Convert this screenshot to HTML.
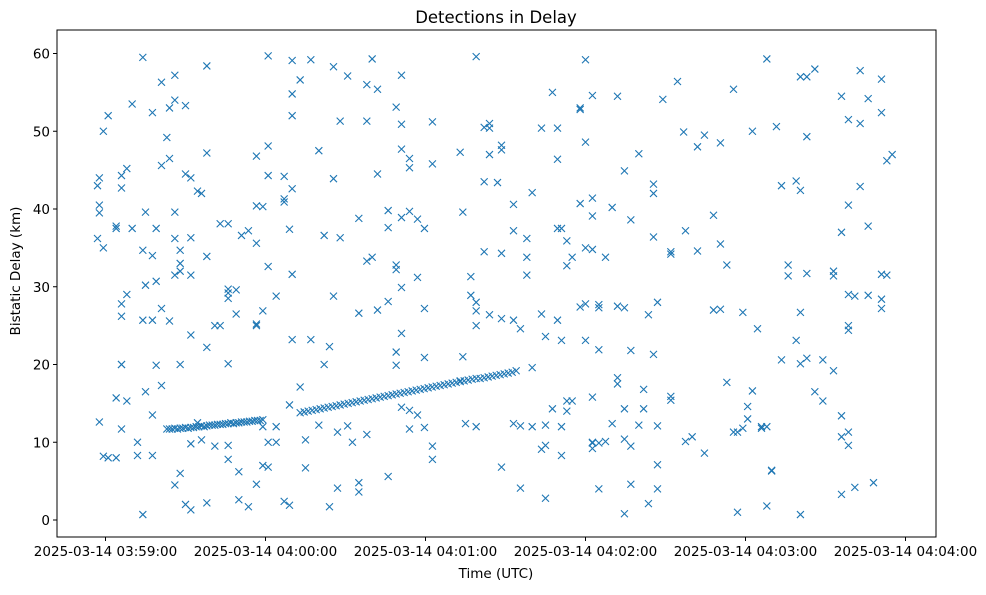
<!DOCTYPE html>
<html><head><meta charset="utf-8"><style>
body{margin:0;background:#fff;font-family:"Liberation Sans","DejaVu Sans",sans-serif}
svg text{font-family:"DejaVu Sans","Liberation Sans",sans-serif;fill:#000}
</style></head><body>
<svg id="chart" width="986" height="590" xmlns="http://www.w3.org/2000/svg">
<rect width="986" height="590" fill="#fff"/>
<text x="496" y="23" font-size="16.5" text-anchor="middle">Detections in Delay</text>
<text x="496" y="578" font-size="13.5" text-anchor="middle">Time (UTC)</text>
<text x="20" y="271" font-size="13.5" text-anchor="middle" transform="rotate(-90 20 271)">Bistatic Delay (km)</text>
<g id="marks"></g>
<g id="axes"></g>
</svg>
<script>
// seconds after 03:59:00, delay in km
const xTickSeconds=[0,60,120,180,240,300];
const xTickLabels=["2025-03-14 03:59:00","2025-03-14 04:00:00","2025-03-14 04:01:00","2025-03-14 04:02:00","2025-03-14 04:03:00","2025-03-14 04:04:00"];
const yTicks=[0,10,20,30,40,50,60];
const trackTimes1=[23,24,25,26,27,28,29,30,31,32,33,34,35,36,37,38,39,40,41,42,43,44,45,46,47,48,49,50,51,52,53,54,55,56,57,58,59];
const trackDelays1=[11.7,11.7,11.7,11.8,11.7,11.8,11.8,11.9,11.8,11.9,11.9,12.0,12.0,12.1,12.0,12.1,12.2,12.2,12.2,12.3,12.3,12.3,12.4,12.4,12.5,12.4,12.5,12.5,12.6,12.6,12.6,12.7,12.7,12.8,12.8,12.8,12.9];
const trackTimes2=[73,74.5,76,77.5,79,80.5,82,83.5,85,86.5,88,89.5,91,92.5,94,95.5,97,98.5,100,101.5,103,104.5,106,107.5,109,110.5,112,113.5,115,116.5,118,119.5,121,122.5,124,125.5,127,128.5,130,131.5,133,134.5,136,137.5,139,140.5,142,143.5,145,146.5,148,149.5,151,152.5,154];
const trackDelays2=[13.8,13.9,14.0,14.1,14.2,14.3,14.4,14.5,14.6,14.7,14.8,14.9,15.0,15.1,15.2,15.3,15.4,15.5,15.6,15.7,15.8,15.9,16.0,16.1,16.2,16.3,16.4,16.5,16.6,16.7,16.8,16.9,17.0,17.1,17.2,17.3,17.4,17.5,17.6,17.7,17.8,17.9,18.0,18.1,18.2,18.2,18.3,18.4,18.5,18.6,18.7,18.8,18.9,19.0,19.2];
const clutterTimes=[-3,-2.3,-0.8,1,4,6,8,10,12,14,15,17.6,19,21,23,24,26,28,30,32,34.5,36,38,41,43,46,49,50,51,53.6,56.6,59,61,64,67,69,70,73,75,77,80,82,84,85.5,87,88,90.8,92.6,95,98,100,102,106,109,111,114,117,119.6,122.6,133,134,135,137,139,142,144,147,148.5,153,155.6,158,160,163.5,165,167.6,169.5,171,173,175,178,180,182.6,185,187.5,190,192,194.6,197,200,201.8,203.6,205.5,207,209,212,214.5,216.8,217.5,220,222,224.6,228,230.6,233,235.5,237,239,240.8,242.6,244.5,246,248,249.8,251.6,253.5,256,259,260.6,263,266,269,273,276,278.6,281,283,286,288,291,293,295];
const clutterDelays=[[36.2,43],[39.5,44,40.5,12.6],[50,35,8.2],[52,8],[37.8,37.5,8,15.7],[27.8,26.2,20,20,11.7,44.3,42.7],[45.2,29,15.3],[53.5,37.5],[8.3,10],[59.5,0.7,34.7,25.7],[39.6,30.2,16.5],[52.4,34,13.5,8.3,25.7],[37.5,19.9,30.7],[45.6,27.2,17.3,56.3],[49.2],[46.5,53,25.6],[57.2,54,36.2,31.5,39.6,4.5],[20,6,33,32,34.7],[44.5,53.3,2],[44,23.8,31.5,36.3,9.8,1.3],[42.3,12.5],[42,10.3],[58.4,47.2,33.9,22.2,2.2],[25,9.5],[38.1,25],[20.1,29.7,28.5,29.2,7.8,38.1,9.6],[29.6,26.5],[6.2,2.6],[36.6],[37.2,1.7],[25,25.2,40.4,46.8,35.6,4.6],[40.3,7,26.9,12],[59.7,44.3,32.6,48.1,10,6.8],[10,12,28.8],[44.2,41.3,40.9,2.4],[14.8,1.9,37.4],[54.8,59.1,52,42.6,31.6,23.2],[56.6,17.1],[6.7,10.3],[59.2,23.2],[47.5,12.2],[36.6,20],[22.3,1.7],[43.9,58.3,28.8],[11.3,4.1],[51.3,36.3],[57.1,12.1],[10],[38.8,26.6,3.6,4.8],[56,51.3,33.3,11],[59.3,33.8],[55.4,44.5,27],[39.8,28.1,37.6,5.6],[53.1,32.8,32.2,21.6,19.9],[57.2,50.9,47.7,38.9,29.9,14.5,24],[46.5,45.3,39.7,11.7,14.1],[38.7,31.2,13.5],[37.5,27.2,20.9,11.9],[51.2,45.8,7.8,9.5],[47.3,17.9],[39.6,21],[12.4],[31.3,28.9],[59.6,12,28,25,26.9],[43.5,50.5,34.5],[51,50.4,47,26.4],[43.4],[48.2,47.6,34.3,6.8,25.9],[40.6,37.2,12.4,25.7],[4.1,24.6,12.1],[33.8,31.5,36.2],[42.1,19.6,12],[50.4,26.5,9.1],[2.8,9.6,12.2,23.6],[55,14.3],[46.4,50.4,37.5,25.7],[37.5,23.1,12,8.3],[15.3,14,35.9,32.7],[15.3,33.8],[53,52.8,40.7,27.4],[59.2,48.6,35,23.1,27.8],[15.8,9.2,9.9,10,39.1,41.4,54.6,34.8],[27.7,27.3,21.9,9.9,4],[33.8,10.1],[40.2,12.4],[54.5,27.5,17.5,18.3],[44.9,14.3,10.4,0.8,27.3],[38.6,21.8,4.6,9.5],[47.1,12.2],[16.8,14.3],[26.4,2.1],[42,43.2,36.4,21.3],[28,12.1,7.1,4],[54.1],[34.5,34.2,15.9,15.4],[56.4],[49.9],[37.2,10.1],[10.7],[48,34.6],[49.5,8.6],[39.2,27],[35.5,27.1,48.5],[32.8,17.7],[55.4,11.3],[1,11.3],[26.7,11.8],[14.6,13],[50,16.6],[24.6],[12,11.8],[59.3,1.8,12],[6.3,6.4],[50.6],[20.6,43],[32.8,31.4],[43.6,23.1],[57,42.4,26.7,20.1,0.7],[57,49.3,31.7,20.8],[58,16.5],[20.6,15.3],[32,31.4,19.2],[54.5,37,13.4,10.7,3.3],[51.5,40.5,11.3,9.6,25,24.4,29],[28.8,4.2],[57.8,51,42.9],[54.2,37.8,28.9],[4.8],[31.6,28.4,27.2,52.4,56.7],[46.2,31.5],[47]];

const NS="http://www.w3.org/2000/svg";
const L=57,R=936,T=30,B=537;
const x=s=>105.5+s*160/60;
const y=k=>520-k*(466.5/60);
const marks=document.getElementById('marks'),axes=document.getElementById('axes');
function mk(tag,at,parent){const e=document.createElementNS(NS,tag);for(const k in at)e.setAttribute(k,at[k]);parent.appendChild(e);return e;}
function point(t,k){
  const cx=x(t),cy=y(k),s=3.5;
  const p=mk('path',{d:`M${cx-s},${cy-s}L${cx+s},${cy+s}M${cx-s},${cy+s}L${cx+s},${cy-s}`,stroke:'#1f77b4','stroke-width':1.1,fill:'none'},marks);
  
  
}
trackTimes1.forEach((t,i)=>point(t,trackDelays1[i]));
trackTimes2.forEach((t,i)=>point(t,trackDelays2[i]));
clutterTimes.forEach((t,i)=>clutterDelays[i].forEach(k=>point(t,k)));
const frame=mk('rect',{x:L,y:T,width:R-L,height:B-T,fill:'none',stroke:'#000','stroke-width':1},axes);


xTickSeconds.forEach((s,i)=>{
  const px=x(s);
  const tk=mk('line',{x1:px,x2:px,y1:B,y2:B+4,stroke:'#000'},axes);
  
  
  const tx=mk('text',{x:px,y:B+19,'font-size':13.5,'text-anchor':'middle'},axes);
  tx.textContent=xTickLabels[i];
  
  
});
yTicks.forEach(v=>{
  const py=y(v);
  const tk=mk('line',{x1:L-4,x2:L,y1:py,y2:py,stroke:'#000'},axes);
  
  
  const tx=mk('text',{x:L-7,y:py+5,'font-size':13.5,'text-anchor':'end'},axes);
  tx.textContent=v;
  
  
});
</script>
</body></html>
